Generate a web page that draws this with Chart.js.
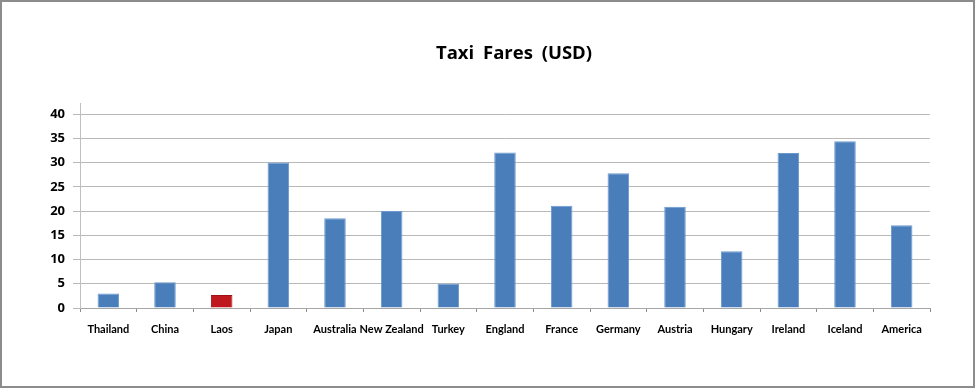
<!DOCTYPE html>
<html>
<head>
<meta charset="utf-8">
<script src="https://cdn.jsdelivr.net/npm/chart.js@4"></script>
<style>
    body { margin: 0; background: #fff; }
    #frame {
        position: relative;
        width: 975px;
        height: 388px;
        box-sizing: border-box;
        border: 2px solid #8c8c8c;
        background: #fff;
    }
    #title {
        position: absolute;
        left: 412px;
        top: 39px;
        width: 200px;
        text-align: center;
        font: bold 18.5px "Open Sans", sans-serif;
        line-height: 22px;
        word-spacing: 4px;
        color: #000;
    }
    canvas { display: block; }
</style>
</head>
<body>
<div id="frame">
    <div id="title">Taxi Fares (USD)</div>
    <canvas id="mainChart" width="971" height="384"></canvas>
</div>
<script>
// --- DADOS ---
const countries = ['Thailand', 'China', 'Laos', 'Japan', 'Australia', 'New Zealand', 'Turkey',
    'England', 'France', 'Germany', 'Austria', 'Hungary', 'Ireland', 'Iceland', 'America'];
const fares = [3.0, 5.3, 2.7, 30.0, 18.5, 20.0, 5.0, 32.1, 21.1, 27.8, 20.9, 11.7, 32.0, 34.4, 17.1];
const yTicks = [0, 5, 10, 15, 20, 25, 30, 35, 40];
const highlight = 'Laos';

const BLUE = '#4a7ebb';
const RED = '#c0181f';

const ctx = document.getElementById('mainChart').getContext('2d');
new Chart(ctx, {
    type: 'bar',
    data: {
        labels: countries,
        datasets: [{
            data: fares,
            backgroundColor: countries.map(c => c === highlight ? RED : BLUE),
            borderColor: countries.map(c => c === highlight ? '#a01018' : '#6a98cf'),
            borderWidth: 1,
            barPercentage: 0.38,
            categoryPercentage: 1
        }]
    },
    options: {
        responsive: false,
        animation: false,
        layout: { padding: { top: 101, right: 43, bottom: 0, left: 0 } },
        plugins: {
            legend: { display: false },
            title: { display: false },
            tooltip: { enabled: false }
        },
        scales: {
            x: {
                grid: {
                    offset: true,
                    drawOnChartArea: false,
                    drawTicks: true,
                    tickLength: 4,
                    color: '#8a8a8a'
                },
                border: { color: '#a6a6a6' },
                ticks: {
                    color: '#000',
                    padding: 11,
                    maxRotation: 0,
                    autoSkip: false,
                    font: { family: 'Lato, sans-serif', size: 11, weight: 'bold' }
                },
                afterFit: s => { s.height = 78; }
            },
            y: {
                min: 0,
                max: 42.3,
                grid: { color: '#b8b8b8', tickLength: 7 },
                border: { color: '#c0c0c0' },
                ticks: {
                    stepSize: 5,
                    color: '#000',
                    padding: 8,
                    font: { family: '"Open Sans", sans-serif', size: 13, weight: 'bold' }
                },
                afterBuildTicks: s => { s.ticks = yTicks.map(v => ({ value: v })); },
                afterFit: s => { s.width = 78; }
            }
        }
    }
});
</script>
</body>
</html>
